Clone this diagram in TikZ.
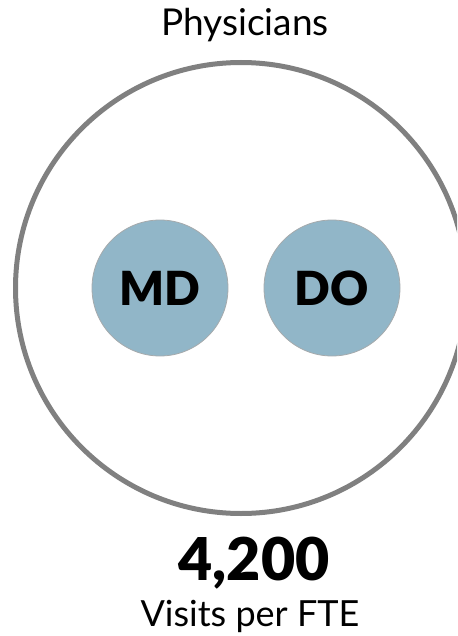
\documentclass[tikz,border=0pt]{standalone}
\usepackage{fontspec}
\setmainfont{Lato}
\newfontfamily\heavyfont{Lato Black}
\usetikzlibrary{positioning}

\begin{document}
\begin{tikzpicture}[x=1pt,y=-1pt,font=\fontsize{36}{40}\selectfont]
\definecolor{ring}{RGB}{128,128,128}
\definecolor{degree}{RGB}{145,182,200}
\definecolor{degreeline}{RGB}{165,170,172}

\tikzset{
  degreedot/.style={circle,fill=degree,draw=degreeline,line width=0.8pt,
    minimum size=136pt,inner sep=0pt,font=\fontsize{47}{50}\selectfont\heavyfont},
}

% Page frame with the reference margins.
\useasboundingbox (0,0) rectangle (457,636);
\clip (0,0) rectangle (457,636);

% Outer ring for the whole group.
\node[circle,draw=ring,line width=5pt,minimum size=451pt,inner sep=0pt]
  (group) at (241,288) {};
\node[anchor=base,font=\fontsize{37}{40}\selectfont] (title) at (245,36) {Physicians};

% The two kinds of physician.
\node[degreedot] (md) at (160,288) {MD};
\node[degreedot] (do) at (332,288) {DO};

% Figure below the ring.
\node[anchor=base,font=\fontsize{59}{62}\selectfont\heavyfont] (visits) at (254,580) {4,200};
\node[anchor=base] (perfte) at (250,626) {Visits per FTE};

\end{tikzpicture}
\end{document}
